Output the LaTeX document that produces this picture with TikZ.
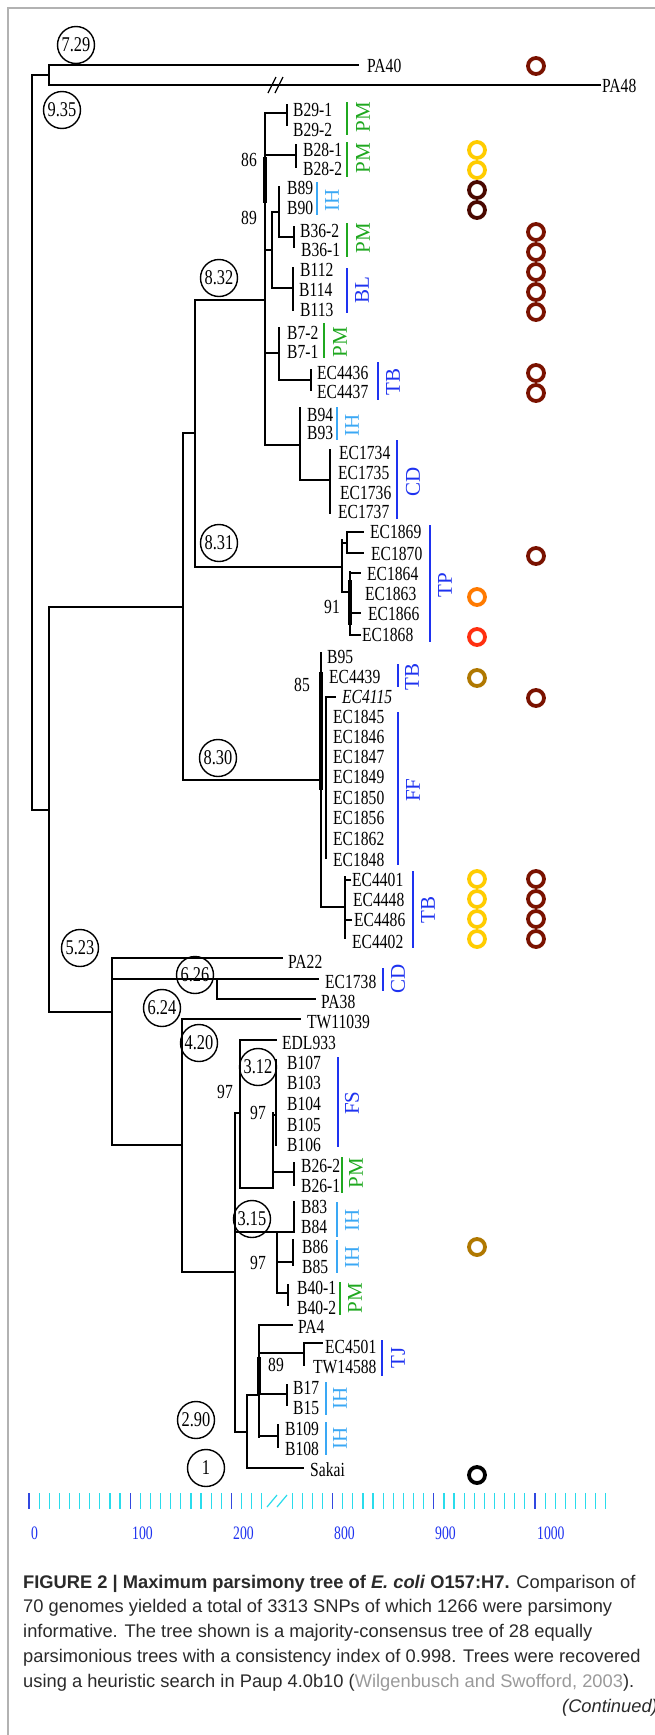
\documentclass[tikz,border=0pt]{standalone}
\usepackage{fontspec}
\setmainfont{Liberation Serif}[FakeStretch=0.78]
\newfontfamily\grpfont{Liberation Serif}
\newfontfamily\scfont{Liberation Serif}[FakeStretch=0.72]
\newfontfamily\capfont{Liberation Sans}
\definecolor{pmgreen}{HTML}{1FA81F}
\definecolor{ihblue}{HTML}{3AA8F5}
\definecolor{grblue}{HTML}{1E32F0}
\definecolor{ryellow}{HTML}{FFCC00}
\definecolor{rdbrown}{HTML}{4A0800}
\definecolor{rdred}{HTML}{7A1200}
\definecolor{rorange}{HTML}{FF7A00}
\definecolor{rred}{HTML}{FF3010}
\definecolor{rochre}{HTML}{B07800}
\definecolor{tkmaj}{HTML}{3148E0}
\definecolor{tkmin}{HTML}{2ADCEC}
\definecolor{captxt}{HTML}{2A2A2A}
\definecolor{citegray}{HTML}{9A9A9A}
\begin{document}
\begin{tikzpicture}[x=1pt,y=-1pt,
  br/.style={line width=1.9pt,line cap=rect},
  thk/.style={line width=3.6pt},
  grp/.style={line width=2.4pt},
  lab/.style={anchor=west,inner sep=0pt,font=\fontsize{20}{21}\selectfont},
  supval/.style={inner sep=0pt,font=\fontsize{20}{21}\selectfont},
  grplab/.style={rotate=90,inner sep=0pt,font=\grpfont\fontsize{21}{22}\selectfont},
  circ/.style={draw,circle,line width=1.4pt,minimum size=37pt,inner sep=0pt,font=\fontsize{21}{22}\selectfont},
  ring/.style={circle,draw,line width=3.8pt,minimum size=16pt,inner sep=0pt},
  captext/.style={anchor=west,inner sep=0pt,text=captxt,font=\capfont\fontsize{18.3}{22}\selectfont}]
\useasboundingbox (0,0) rectangle (655,1735);
\fill[white] (0,0) rectangle (655,1735);
\draw[gray!60,line width=1.3pt] (655,8)--(8,8)--(8,1735);

% ---------- top of tree ----------
\draw[br] (32,75)--(49,75);
\draw[br] (32,75)--(32,810)--(49,810);
\draw[br] (49,65)--(49,85);
\draw[br] (49,65)--(358,65);
\draw[br] (49,85)--(600,85);
\draw[line width=1.3pt] (268,93)--(276,77) (275,93)--(283,77);
\draw[br] (49,607)--(49,1012);
\draw[br] (49,607)--(183,607);
\draw[br] (49,1012)--(112,1012);

% ---------- upper clade ----------
\draw[br] (183,433)--(183,780);
\draw[br] (183,433)--(195,433);
\draw[br] (183,780)--(321,780);
\draw[br] (195,300)--(195,567);
\draw[br] (195,300)--(265,300);
\draw[br] (195,567)--(342,567);
\draw[br] (265,113)--(265,445);
\draw[thk] (265,157)--(265,203);
\draw[br] (265,113)--(287,113); \draw[br] (287,105)--(287,125);
\draw[br] (265,155)--(296,155); \draw[br] (296,145)--(296,167);
\draw[br] (265,250)--(272,250); \draw[br] (272,212)--(272,288);
\draw[br] (272,212)--(279,212); \draw[br] (279,187)--(279,237)--(294,237);
\draw[br] (294,227)--(294,247);
\draw[br] (272,288)--(293,288); \draw[br] (293,268)--(293,310);
\draw[br] (265,353)--(279,353); \draw[br] (279,328)--(279,380)--(311,380);
\draw[br] (311,370)--(311,390);
\draw[br] (265,445)--(300,445); \draw[br] (300,408)--(300,480)--(330,480);
\draw[br] (330,450)--(330,513);
% TP
\draw[br] (342,540)--(342,592)--(350,592);
\draw[br] (342,543)--(347,543);
\draw[br] (363,532)--(347,532)--(347,553)--(363,553);
\draw[br] (350,572)--(350,635);
\draw[thk] (350,580)--(350,625);
\draw[br] (350,573)--(360,573);
\draw[br] (350,613)--(360,613);
\draw[br] (350,635)--(360,635);
% 8.30
\draw[br] (321,653)--(321,907)--(345,907);
\draw[thk] (321,672)--(321,790);
\draw[br] (345,877)--(345,938);
\draw[br] (345,880)--(350,880);
\draw[br] (345,920)--(351,920);
\draw[br] (326,697)--(326,858);
\draw[br] (326,697)--(335,697);

% ---------- lower clade ----------
\draw[br] (112,958)--(112,1145);
\draw[br] (112,958)--(282,958);
\draw[br] (112,979)--(318,979);
\draw[br] (217,979)--(217,999)--(315,999);
\draw[br] (112,1145)--(182,1145);
\draw[br] (182,1019)--(182,1272);
\draw[br] (182,1019)--(300,1019);
\draw[br] (182,1272)--(235,1272);
\draw[br] (235,1113)--(235,1432)--(247,1432);
\draw[br] (235,1113)--(240,1113);
\draw[br] (240,1040)--(240,1188)--(273,1188);
\draw[br] (240,1040)--(276,1040);
\draw[br] (273,1113)--(273,1188);
\draw[br] (273,1115)--(276,1115);
\draw[br] (276,1060)--(276,1145);
\draw[br] (273,1172)--(294,1172); \draw[br] (294,1163)--(294,1185);
\draw[br] (235,1232)--(294,1232);
\draw[br] (294,1202)--(294,1232);
\draw[br] (277,1232)--(277,1293)--(288,1293);
\draw[br] (288,1285)--(288,1305);
\draw[br] (277,1262)--(293,1262); \draw[br] (293,1240)--(293,1265);
\draw[br] (247,1395)--(247,1468)--(303,1468);
\draw[br] (247,1395)--(259,1395);
\draw[br] (259,1325)--(259,1437);
\draw[thk] (259,1357)--(259,1395);
\draw[br] (259,1325)--(292,1325);
\draw[br] (259,1353)--(304,1353); \draw[br] (304,1343)--(304,1365);
\draw[br] (304,1343)--(322,1343);
\draw[br] (259,1394)--(287,1394); \draw[br] (287,1385)--(287,1405);
\draw[br] (259,1436)--(278,1436); \draw[br] (278,1425)--(278,1447);

% ---------- leaf labels ----------
\foreach \t/\xx/\yy [count=\i] in {PA40/367/66, PA48/602/86,
  B29-1/293/110, B29-2/293/130, B28-1/303/150, B28-2/303/169,
  B89/287/188, B90/287/208, B36-2/300/231, B36-1/301/250,
  B112/300/270, B114/299/290, B113/300/310, B7-2/287/333, B7-1/287/352,
  EC4436/317/373, EC4437/317/392, B94/307/415, B93/307/433,
  EC1734/339/453, EC1735/338/473, EC1736/340/493, EC1737/338/512,
  EC1869/370/532, EC1870/371/554, EC1864/367/574, EC1863/365/594,
  EC1866/368/614, EC1868/362/635, B95/327/657, EC4439/329/677,
  EC1845/333/717, EC1846/333/737, EC1847/333/757, EC1849/333/777,
  EC1850/333/798, EC1856/333/818, EC1862/333/839, EC1848/333/860,
  EC4401/352/880, EC4448/353/900, EC4486/354/920, EC4402/352/942,
  PA22/288/962, EC1738/325/982, PA38/321/1002, TW11039/307/1022,
  EDL933/282/1043, B107/287/1063, B103/287/1083, B104/287/1104,
  B105/287/1125, B106/287/1145, B26-2/301/1166, B26-1/301/1186,
  B83/301/1207, B84/301/1227, B86/302/1247, B85/302/1267,
  B40-1/297/1288, B40-2/297/1308, PA4/298/1327, EC4501/325/1347,
  TW14588/313/1367, B17/293/1388, B15/293/1408, B109/285/1429,
  B108/285/1449, Sakai/310/1470}
  \node[lab] (leaf\i) at (\xx,\yy) {\t};
\node[lab] (ec4115) at (342,697) {\itshape EC4115};

% ---------- support values ----------
\foreach \t/\xx/\yy [count=\i] in {86/249/160, 89/249/218, 91/332/607,
  85/302/685, 97/225/1092, 97/258/1113, 97/258/1263, 89/276/1365}
  \node[supval] (sv\i) at (\xx,\yy) {\t};

% ---------- circled values ----------
\foreach \t/\xx/\yy [count=\i] in {7.29/76/45, 9.35/62/110, 8.32/219/278,
  8.31/219/543, 8.30/218/758, 5.23/80/948, 6.26/195/975, 6.24/162/1008,
  4.20/199/1043, 3.12/258/1067, 3.15/252/1219, 2.90/196/1420, 1/206/1468}
  \node[circ] (cv\i) at (\xx,\yy) {\t};

% ---------- group bars ----------
\foreach \c/\xx/\ya/\yb/\lx/\ly/\t [count=\i] in {
  pmgreen/347/102/135/363/117/PM, pmgreen/347/142/177/363/158/PM,
  ihblue/317/182/215/332/200/IH, pmgreen/347/223/257/363/238/PM,
  grblue/347/268/313/362/290/BL, pmgreen/324/323/358/340/342/PM,
  grblue/378/362/400/393/382/TB, ihblue/337/407/440/352/425/IH,
  grblue/397/440/519/413/482/CD, grblue/430/525/642/445/585/TP,
  grblue/398/664/687/412/677/TB, grblue/398/712/865/413/790/FF,
  grblue/413/871/948/428/910/TB, grblue/383/968/991/398/979/CD,
  grblue/338/1057/1147/352/1103/FS, pmgreen/342/1157/1193/356/1173/PM,
  ihblue/337/1202/1237/352/1220/IH, ihblue/337/1240/1273/352/1257/IH,
  pmgreen/340/1282/1315/355/1298/PM, grblue/382/1340/1376/398/1358/TJ,
  ihblue/326/1382/1415/340/1398/IH, ihblue/326/1422/1455/340/1438/IH}
  {\draw[grp,\c] (\xx,\ya)--(\xx,\yb);
   \node[grplab,text=\c] (grp\i) at (\lx,\ly) {\t};}

% ---------- rings ----------
\foreach \c/\xx/\yy [count=\i] in {rdred/536/66,
  ryellow/477/150, ryellow/477/170, rdbrown/477/190, rdbrown/477/210,
  rdred/536/232, rdred/536/252, rdred/536/272, rdred/536/292, rdred/536/312,
  rdred/536/373, rdred/536/393, rdred/536/556,
  rorange/477/597, rred/477/637, rochre/477/678, rdred/536/698,
  ryellow/477/879, ryellow/477/899, ryellow/477/919, ryellow/477/939,
  rdred/536/879, rdred/536/899, rdred/536/919, rdred/536/939,
  rochre/477/1247, black/477/1475}
  \node[ring,draw=\c] (ring\i) at (\xx,\yy) {};

% ---------- scale ----------
\foreach \k in {0,10,20,30,40,50}
  \draw[tkmaj,line width=1.2pt] ({29+10.12*\k},1493)--({29+10.12*\k},1509);
\foreach \k in {1,2,3,4,5,6,7,8,9,11,12,13,14,15,16,17,18,19,21,22,23,26,27,28,29,
  31,32,33,34,35,36,37,38,39,41,42,43,44,45,46,47,48,49,51,52,53,54,55,56,57}
  \draw[tkmin,line width=1.2pt] ({29+10.12*\k},1493)--({29+10.12*\k},1509);
\draw[tkmin,line width=1.2pt] (267,1507)--(277,1495) (277,1507)--(287,1495);
\foreach \t/\xx [count=\i] in {0/29, 100/130, 200/231, 800/332, 900/433, 1000/535}
  \node[anchor=west,inner sep=0pt,text=grblue,font=\scfont\fontsize{19}{20}\selectfont] (sc\i) at (\xx+2,1533) {\t};

% ---------- caption ----------
\node[captext] (cap1) at (23,1584) {\textbf{FIGURE 2 | Maximum parsimony tree of \textit{E. coli} O157:H7.} Comparison of};
\node[captext] (cap2) at (23,1608) {70 genomes yielded a total of 3313 SNPs of which 1266 were parsimony};
\node[captext] (cap3) at (23,1633) {informative. The tree shown is a majority-consensus tree of 28 equally};
\node[captext] (cap4) at (23,1658) {parsimonious trees with a consistency index of 0.998. Trees were recovered};
\node[captext] (cap5) at (23,1683) {using a heuristic search in Paup 4.0b10 (\textcolor{citegray}{Wilgenbusch and Swofford, 2003}).};
\node[captext,anchor=east] (cap6) at (658,1708) {\textit{(Continued)}};
\end{tikzpicture}
\end{document}
